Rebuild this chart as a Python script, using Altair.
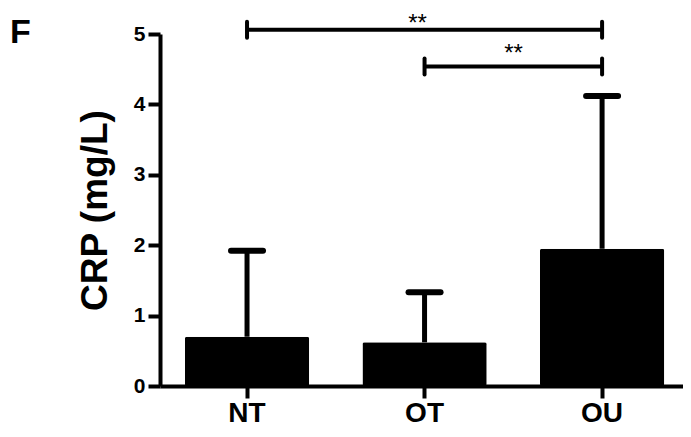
import altair as alt
import pandas as pd

categories = ["NT", "OT", "OU"]
means = [0.70, 0.62, 1.95]
sds = [1.22, 0.71, 2.17]

cmp_start = ["NT", "OT"]
cmp_end = ["OU", "OU"]
cmp_mid = ["OT", "OT"]
cmp_level = [5.06, 4.54]
cmp_label = ["**", "**"]

panel_label = "F"
y_title = "CRP (mg/L)"
y_ticks = [0, 1, 2, 3, 4, 5]

bars = pd.DataFrame({"group": categories, "mean": means, "sd": sds})
bars["upper"] = bars["mean"] + bars["sd"]
cmp = pd.DataFrame({"start": cmp_start, "end": cmp_end, "mid": cmp_mid,
                    "level": cmp_level, "label": cmp_label})

FONT = "Liberation Sans"

xscale = alt.Scale(domain=categories, paddingInner=0.3, paddingOuter=0.123, align=0.57)
yscale = alt.Scale(domain=[0, 5], nice=False, zero=True)

x_enc = alt.X("group:N", scale=xscale, sort=categories,
              axis=alt.Axis(title=None, labelAngle=0, labelFont=FONT, labelFontSize=28,
                            labelFontWeight="bold", labelColor="black", labelPadding=1,
                            tickSize=12, tickWidth=4, tickColor="black",
                            domainColor="black", domainWidth=4, grid=False))
y_enc = alt.Y("mean:Q", scale=yscale,
              axis=alt.Axis(title=y_title, values=y_ticks, format="d", labelFont=FONT,
                            labelFontSize=21, labelFontWeight="bold", labelColor="black",
                            labelPadding=3, tickSize=12, tickWidth=4, tickColor="black",
                            domainColor="black", domainWidth=4, grid=False,
                            titleFont=FONT, titleFontSize=37, titleFontWeight="bold",
                            titleColor="black", titlePadding=19))

base = alt.Chart(bars)

bar_layer = base.mark_bar(color="black", cornerRadius=2).encode(x=x_enc, y=y_enc)

err_line = base.mark_rule(color="black", strokeWidth=5).encode(
    x=alt.X("group:N", scale=xscale, sort=categories),
    y=alt.Y("mean:Q", scale=yscale),
    y2="upper:Q")

err_cap = base.mark_rule(color="black", strokeWidth=6, strokeCap="round",
                         xOffset=-16, x2Offset=16).encode(
    x=alt.X("group:N", scale=xscale, sort=categories),
    x2="group:N",
    y=alt.Y("upper:Q", scale=yscale))

cbase = alt.Chart(cmp)
br_h = cbase.mark_rule(color="black", strokeWidth=4).encode(
    x=alt.X("start:N", scale=xscale, sort=categories),
    x2="end:N",
    y=alt.Y("level:Q", scale=yscale))
br_l = cbase.mark_rule(color="black", strokeWidth=4, strokeCap="round",
                       yOffset=-8, y2Offset=8).encode(
    x=alt.X("start:N", scale=xscale, sort=categories),
    y=alt.Y("level:Q", scale=yscale), y2="level:Q")
br_r = cbase.mark_rule(color="black", strokeWidth=4, strokeCap="round",
                       yOffset=-8, y2Offset=8).encode(
    x=alt.X("end:N", scale=xscale, sort=categories),
    y=alt.Y("level:Q", scale=yscale), y2="level:Q")

star1 = cbase.transform_filter(alt.datum.start == "NT").mark_text(
    font=FONT, fontSize=24, color="black", baseline="alphabetic", dy=1, dx=-7
).encode(x=alt.X("mid:N", scale=xscale, sort=categories),
         y=alt.Y("level:Q", scale=yscale), text="label:N")
star2 = cbase.transform_filter(alt.datum.start == "OT").mark_text(
    font=FONT, fontSize=24, color="black", baseline="alphabetic", dy=-5, dx=89
).encode(x=alt.X("mid:N", scale=xscale, sort=categories),
         y=alt.Y("level:Q", scale=yscale), text="label:N")

flabel = alt.Chart(pd.DataFrame({"t": [panel_label]})).mark_text(
    font=FONT, fontSize=34, fontWeight="bold", color="black", align="left", baseline="alphabetic"
).encode(x=alt.value(-150), y=alt.value(9), text="t:N")

chart = alt.layer(bar_layer, err_line, err_cap, br_h, br_l, br_r, star1, star2, flabel).properties(
    width=523, height=352,
    autosize=alt.AutoSizeParams(type="none"),
    padding={"left": 152, "top": 26, "right": 0, "bottom": 43},
).configure_view(stroke=None)

chart.save("out.html", embed_options={"renderer": "svg", "actions": False})
